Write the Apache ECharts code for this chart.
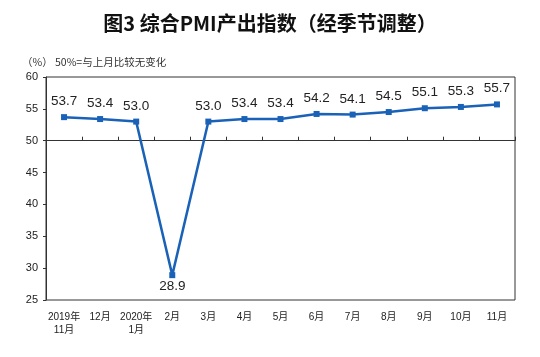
<!DOCTYPE html>
<html><head><meta charset="utf-8">
<script src="https://cdn.jsdelivr.net/npm/echarts@6/dist/echarts.min.js"></script>
<style>html,body{margin:0;padding:0;background:#fff}#c{width:540px;height:357px}</style>
</head><body><div id="c"></div>
<script>
var categories = ['2019年\n11月','12月','2020年\n1月','2月','3月','4月','5月','6月','7月','8月','9月','10月','11月'];
var values = [53.7,53.4,53.0,28.9,53.0,53.4,53.4,54.2,54.1,54.5,55.1,55.3,55.7];
var yTicks = [25,30,35,40,45,50,55,60];
var title = '图3 综合PMI产出指数（经季节调整）';
var note = '（%） 50%=与上月比较无变化';

var gridTop = 77, gridBottom = 57, gridH = 357 - gridTop - gridBottom;
var yMin = yTicks[0], yMax = yTicks[yTicks.length-1];
var off50 = -gridH * (50 - yMin) / (yMax - yMin);
var font = 'Liberation Sans, Arial, Noto Sans CJK SC, sans-serif';

var chart = echarts.init(document.getElementById('c'));
chart.setOption({
  animation: false,
  title: [
    {text: title, left: 'center', top: 8, textStyle: {fontSize: 20, fontWeight: 'bold', color: '#111', fontFamily: 'Noto Sans CJK SC'}},
    {text: note, left: 17, top: 52, textStyle: {fontSize: 10.5, fontWeight: 'normal', color: '#333', fontFamily: 'Noto Sans CJK SC'}}
  ],
  grid: {left: 46, right: 25, top: gridTop, bottom: gridBottom, show: true, borderColor: '#333', borderWidth: 1},
  xAxis: [
    {type: 'category', data: categories, position: 'bottom',
     axisLine: {show: false}, axisTick: {show: false},
     axisLabel: {interval: 0, fontSize: 10, color: '#222', margin: 11, lineHeight: 13, fontFamily: font}},
    {type: 'category', data: categories, position: 'bottom', offset: off50,
     axisLine: {show: true, lineStyle: {color: '#333', width: 1}},
     axisTick: {show: true, inside: true, length: 4, interval: 0, lineStyle: {color: '#333'}},
     axisLabel: {show: false}}
  ],
  yAxis: {type: 'value', min: yMin, max: yMax, interval: 5,
    axisLine: {show: true, lineStyle: {color: '#333'}},
    axisTick: {show: true, length: 3, lineStyle: {color: '#333'}},
    splitLine: {show: false},
    axisLabel: {fontSize: 11, color: '#222', margin: 8, fontFamily: font}},
  series: [{
    type: 'line', xAxisIndex: 0,
    symbol: 'rect', symbolSize: 6,
    lineStyle: {color: '#1a62b8', width: 2.5},
    itemStyle: {color: '#1a62b8'},
    label: {show: true, fontSize: 13.5, color: '#222', fontFamily: font, distance: 6,
      position: 'top', formatter: function(p){return p.value.toFixed(1);}},
    data: values.map(function(v){
      return v < 50 ? {value: v, label: {position: 'bottom', distance: 1}} : v;
    })
  }]
});
</script></body></html>
